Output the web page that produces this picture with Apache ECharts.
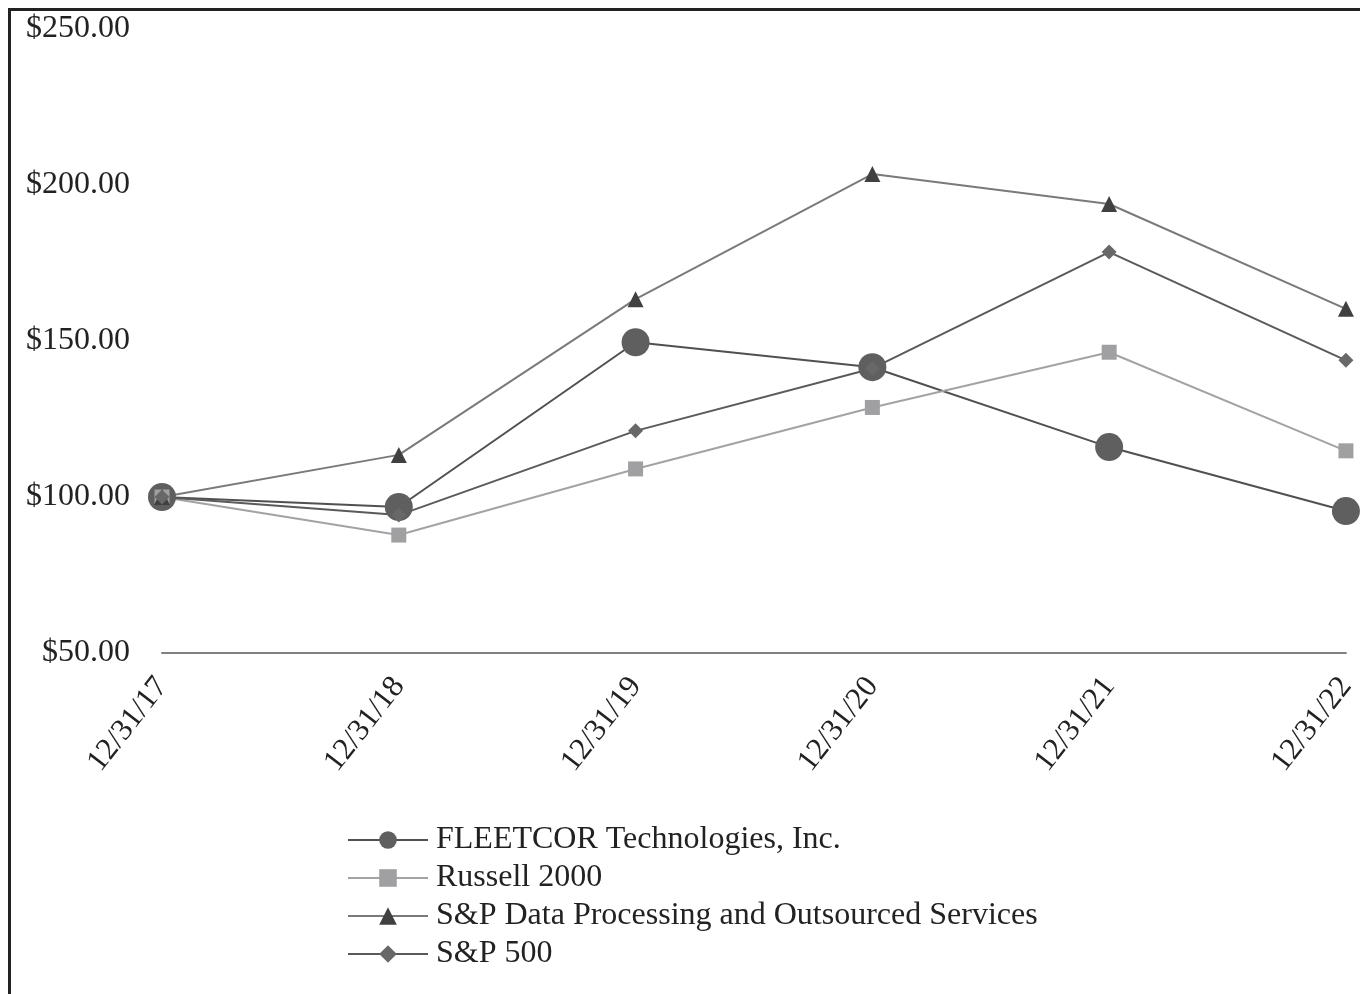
<!DOCTYPE html>
<html>
<head>
<meta charset="utf-8">
<script src="https://cdn.jsdelivr.net/npm/echarts@6/dist/echarts.min.js"></script>
<style>
  html, body { margin: 0; padding: 0; background: #fff; }
  #chart { position: absolute; left: 0; top: 0; width: 1360px; height: 994px; }
  #frame { position: absolute; left: 8px; top: 8px; width: 1360px; height: 1000px;
           border-left: 3px solid #222; border-top: 3px solid #222; }
</style>
</head>
<body>
<div id="frame"></div>
<div id="chart"></div>
<script>
var dates = ['12/31/17', '12/31/18', '12/31/19', '12/31/20', '12/31/21', '12/31/22']
var fleetcor = [100, 96.8, 149.6, 141.6, 116.0, 95.5]
var russell = [100, 87.8, 109.0, 128.7, 146.4, 114.8]
var spData = [100, 113.5, 163.4, 203.5, 193.9, 160.3]
var sp500 = [100, 94.2, 121.2, 141.2, 178.5, 143.8]

var font = '"Liberation Serif", "Times New Roman", serif'

function line (name, data, lineColor, symbol, size, symColor) {
  return {
    name: name,
    type: 'line',
    data: data,
    symbol: symbol,
    symbolSize: size,
    showSymbol: true,
    lineStyle: { color: lineColor, width: 2 },
    itemStyle: { color: symColor },
    emphasis: { disabled: true }
  }
}

var chart = echarts.init(document.getElementById('chart'))
chart.setOption({
  animation: false,
  backgroundColor: 'transparent',
  grid: { left: 162, right: 8, top: 29, bottom: 341, containLabel: false },
  legend: {
    orient: 'vertical',
    left: 342,
    top: 819,
    itemWidth: 80,
    itemHeight: 22,
    itemGap: 6,
    textStyle: { fontFamily: font, fontSize: 32, lineHeight: 32, color: '#222', padding: [0, 0, 0, 3] },
    data: [
      'FLEETCOR Technologies, Inc.',
      'Russell 2000',
      'S&P Data Processing and Outsourced Services',
      'S&P 500'
    ]
  },
  xAxis: {
    type: 'category',
    data: dates,
    boundaryGap: false,
    axisLine: { show: true, lineStyle: { color: '#808080', width: 2 } },
    axisTick: { show: false },
    axisLabel: {
      rotate: 52,
      margin: 28,
      fontFamily: font,
      fontSize: 31,
      color: '#222'
    }
  },
  yAxis: {
    type: 'value',
    min: 50,
    max: 250,
    interval: 50,
    axisLine: { show: false },
    axisTick: { show: false },
    splitLine: { show: false },
    axisLabel: {
      margin: 32,
      fontFamily: font,
      fontSize: 32,
      color: '#222',
      formatter: function (v) { return '$' + v.toFixed(2) }
    }
  },
  series: [
    line('FLEETCOR Technologies, Inc.', fleetcor, '#505050', 'circle', 28, '#5f5f5f'),
    line('Russell 2000', russell, '#a3a3a3', 'rect', 15, '#a0a0a3'),
    line('S&P Data Processing and Outsourced Services', spData, '#7a7a7a', 'triangle', 16, '#404040'),
    line('S&P 500', sp500, '#5a5a5a', 'diamond', 15, '#686868')
  ]
})
</script>
</body>
</html>
